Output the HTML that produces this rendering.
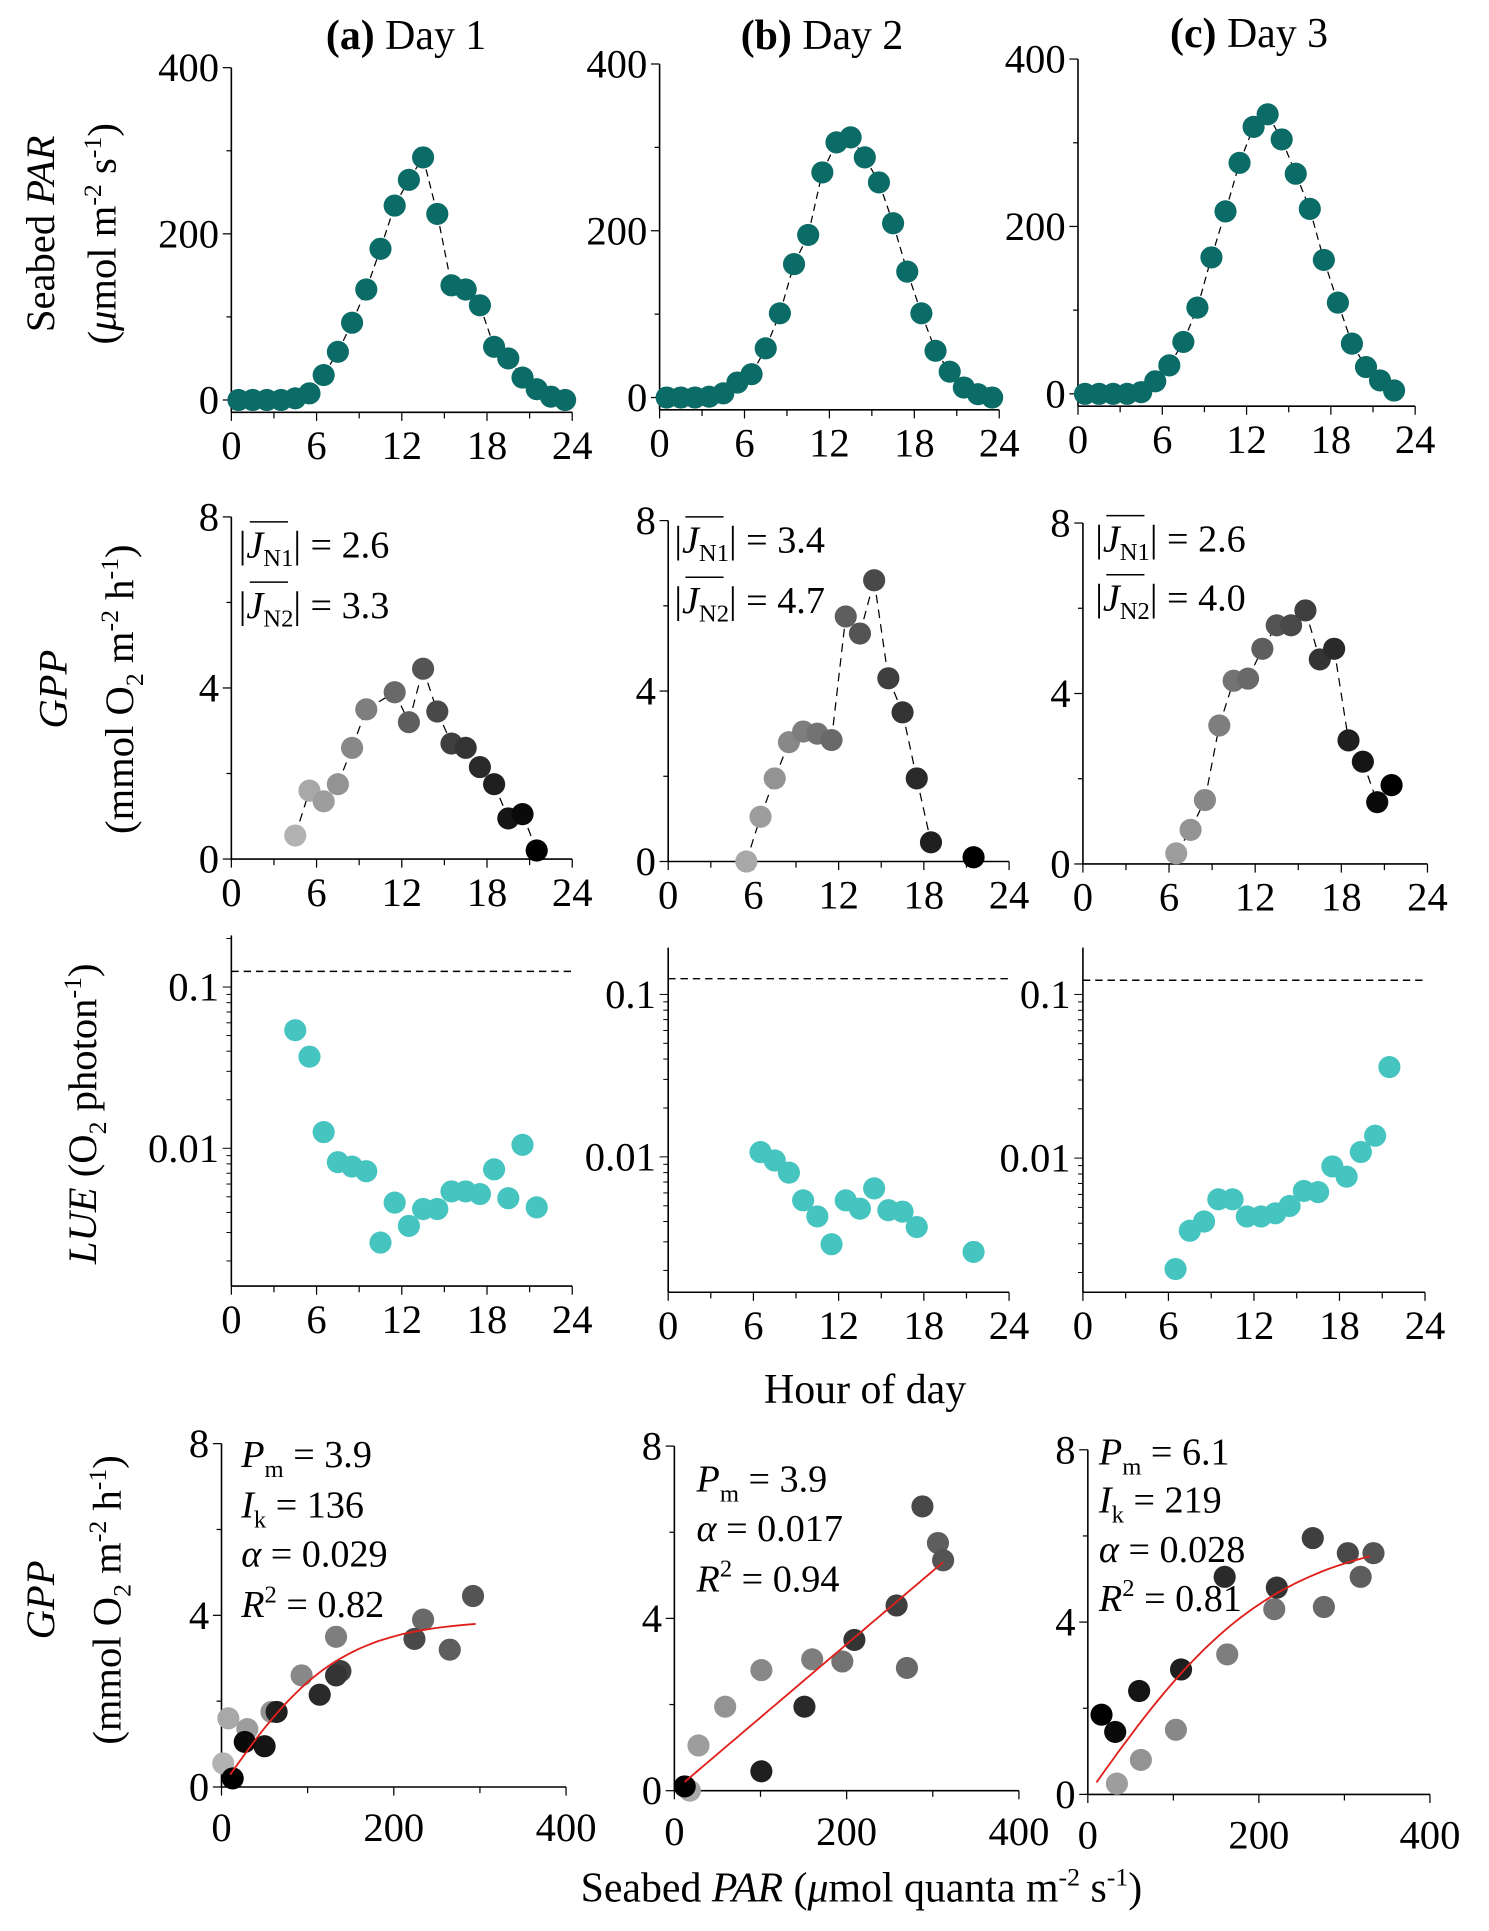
<!DOCTYPE html>
<html><head><meta charset="utf-8">
<style>
html,body{margin:0;padding:0;background:#fff;}
svg{display:block;font-family:"Liberation Serif",serif;}
</style></head>
<body>
<svg id="fig" xmlns="http://www.w3.org/2000/svg" width="1489" height="1931" viewBox="0 0 1210 1569" preserveAspectRatio="none">
  <g font-size="34" text-anchor="middle">
    <text x="330" y="40"><tspan font-weight="bold">(a)</tspan> Day 1</text>
    <text x="668" y="40"><tspan font-weight="bold">(b)</tspan> Day 2</text>
    <text x="1015" y="38"><tspan font-weight="bold">(c)</tspan> Day 3</text>
  </g>
  <g font-size="33" text-anchor="middle">
    <text transform="translate(44,190) rotate(-90)">Seabed <tspan font-style="italic">PAR</tspan></text>
    <text transform="translate(94,190) rotate(-90)">(<tspan font-style="italic">μ</tspan>mol m<tspan font-size="21" dy="-12">-2</tspan><tspan dy="12"> s</tspan><tspan font-size="21" dy="-12">-1</tspan><tspan dy="12">)</tspan></text>
    <text transform="translate(54,560) rotate(-90)" font-style="italic">GPP</text>
    <text transform="translate(108,560) rotate(-90)">(mmol O<tspan font-size="21" dy="8">2</tspan><tspan dy="-8"> m</tspan><tspan font-size="21" dy="-12">-2</tspan><tspan dy="12"> h</tspan><tspan font-size="21" dy="-12">-1</tspan><tspan dy="12">)</tspan></text>
    <text transform="translate(78,905) rotate(-90)"><tspan font-style="italic">LUE</tspan> (O<tspan font-size="21" dy="8">2</tspan><tspan dy="-8"> photon</tspan><tspan font-size="21" dy="-12">-1</tspan><tspan dy="12">)</tspan></text>
    <text transform="translate(44,1300) rotate(-90)" font-style="italic">GPP</text>
    <text transform="translate(98,1300) rotate(-90)">(mmol O<tspan font-size="21" dy="8">2</tspan><tspan dy="-8"> m</tspan><tspan font-size="21" dy="-12">-2</tspan><tspan dy="12"> h</tspan><tspan font-size="21" dy="-12">-1</tspan><tspan dy="12">)</tspan></text>
  </g>
  <text x="703" y="1140" font-size="34" text-anchor="middle">Hour of day</text>
  <text x="700" y="1545" font-size="34" text-anchor="middle">Seabed <tspan font-style="italic">PAR</tspan> (<tspan font-style="italic">μ</tspan>mol quanta m<tspan font-size="21" dy="-13">-2</tspan><tspan dy="13"> s</tspan><tspan font-size="21" dy="-13">-1</tspan><tspan dy="13">)</tspan></text>
  <g id="plots"></g>
</svg>
<script>
// ---- data ----
const parHours1 = [0.5,1.5,2.5,3.5,4.5,5.5,6.5,7.5,8.5,9.5,10.5,11.5,12.5,13.5,14.5,15.5,16.5,17.5,18.5,19.5,20.5,21.5,22.5,23.5];
const parVals1  = [0,0,0,0,2,8,30,58,93,133,182,234,265,292,224,138,133,114,64,50,27,13,4,0];
const parHours2 = [0.5,1.5,2.5,3.5,4.5,5.5,6.5,7.5,8.5,9.5,10.5,11.5,12.5,13.5,14.5,15.5,16.5,17.5,18.5,19.5,20.5,21.5,22.5,23.5];
const parVals2  = [0,0,0,1,5,18,28,59,101,160,195,270,306,312,288,258,209,151,101,56,31,12,4,0];
const parHours3 = [0.5,1.5,2.5,3.5,4.5,5.5,6.5,7.5,8.5,9.5,10.5,11.5,12.5,13.5,14.5,15.5,16.5,17.5,18.5,19.5,20.5,21.5,22.5];
const parVals3  = [0,0,0,0,2,15,34,62,103,163,218,276,319,334,304,263,221,160,109,60,32,16,4];

const gppHours1 = [4.5,5.5,6.5,7.5,8.5,9.5,11.5,12.5,13.5,14.5,15.5,16.5,17.5,18.5,19.5,20.5,21.5];
const gppVals1  = [0.55,1.6,1.35,1.75,2.6,3.5,3.9,3.2,4.45,3.45,2.7,2.6,2.15,1.75,0.95,1.05,0.2];
const gppHours2 = [5.5,6.5,7.5,8.5,9.5,10.5,11.5,12.5,13.5,14.5,15.5,16.5,17.5,18.5,21.5];
const gppVals2  = [0.0,1.05,1.95,2.8,3.05,3.0,2.85,5.75,5.35,6.6,4.3,3.5,1.95,0.45,0.1];
const gppHours3 = [6.5,7.5,8.5,9.5,10.5,11.5,12.5,13.5,14.5,15.5,16.5,17.5,18.5,19.5,20.5,21.5];
const gppVals3  = [0.25,0.8,1.5,3.25,4.3,4.35,5.05,5.6,5.6,5.95,4.8,5.05,2.9,2.4,1.45,1.85];

const lueHours1 = [4.5,5.5,6.5,7.5,8.5,9.5,10.5,11.5,12.5,13.5,14.5,15.5,16.5,17.5,18.5,19.5,20.5,21.5];
const lueVals1  = [0.054,0.037,0.0126,0.0082,0.0077,0.0072,0.0026,0.0046,0.0033,0.0042,0.0042,0.0054,0.0054,0.0052,0.0074,0.0049,0.0105,0.0043];
const lueHours2 = [6.5,7.5,8.5,9.5,10.5,11.5,12.5,13.5,14.5,15.5,16.5,17.5,21.5];
const lueVals2  = [0.0107,0.0095,0.008,0.0054,0.0043,0.0029,0.0054,0.0048,0.0064,0.0047,0.0046,0.0037,0.0026];
const lueHours3 = [6.5,7.5,8.5,9.5,10.5,11.5,12.5,13.5,14.5,15.5,16.5,17.5,18.5,19.5,20.5,21.5];
const lueVals3  = [0.0021,0.0036,0.0041,0.0056,0.0056,0.0044,0.0044,0.0046,0.0051,0.0063,0.0062,0.0089,0.0077,0.0109,0.0137,0.036];
const lueMax = [0.125,0.125,0.122];

const fitPm = [3.9,3.9,6.1];
const fitIk = [136,null,219];
const fitAlpha = [0.029,0.017,0.028];
const fitR2 = [0.82,0.94,0.81];
const fitLinear = [false,true,false];
const fitRange = [[10,295],[12,312],[10,330]];

const hourTicks = [0,6,12,18,24];
const parTicks = [0,200,400];
const gppTicks = [0,4,8];
const lueTicks = [0.01,0.1];
const lueTickLabels = ['0.01','0.1'];
const piTicks = [0,200,400];

// ---- layout (pixels) ----
const NS='http://www.w3.org/2000/svg';
const root=document.getElementById('plots');
function mk(tag,attrs,parent){const e=document.createElementNS(NS,tag);for(const k in attrs)e.setAttribute(k,attrs[k]);(parent||root).appendChild(e);return e;}
function lin(d0,d1,p0,p1){return v=>p0+(v-d0)/(d1-d0)*(p1-p0);}
function logS(yA,yB){return v=>yA+(Math.log10(v)-(-1))*(yA-yB);}
function grayFor(h){let t=(h-4.5)/17;t=Math.max(0,Math.min(1,t));const g=Math.round(178*(1-t));return 'rgb('+g+','+g+','+g+')';}

const L1=[{x0:188,x1:465,y0:325,y1:55},{x0:536,x1:812,y0:323,y1:52},{x0:876,x1:1150,y0:320,y1:48}];
const L2=[{x0:188,x1:465,y0:698,y1:420},{x0:543,x1:820,y0:700,y1:423},{x0:880,x1:1160,y0:702,y1:425}];
const L3=[{x0:188,x1:465,ya:802,yb:933,top:760,bot:1045},{x0:543,x1:820,ya:808,yb:940,top:770,bot:1050},{x0:880,x1:1158,ya:808,yb:941,top:770,bot:1050}];
const L4=[{x0:180,x1:460,y0:1452,y1:1173},{x0:548,x1:828,y0:1455,y1:1175},{x0:884,x1:1162,y0:1458,y1:1178}];

const parH=[parHours1,parHours2,parHours3], parV=[parVals1,parVals2,parVals3];
const gppH=[gppHours1,gppHours2,gppHours3], gppV=[gppVals1,gppVals2,gppVals3];
const lueH=[lueHours1,lueHours2,lueHours3], lueV=[lueVals1,lueVals2,lueVals3];
const FS=33;

function xAxisHours(g,L,yAxis){
  const sx=lin(0,24,L.x0,L.x1);
  const ax=mk('line',{x1:L.x0,y1:yAxis,x2:L.x1,y2:yAxis,stroke:'#000','stroke-width':1.3},g);
  
  for(let h=0;h<=24;h+=3){mk('line',{x1:sx(h),y1:yAxis,x2:sx(h),y2:yAxis+(h%6===0?7:5),stroke:'#000','stroke-width':1},g);}
  hourTicks.forEach(h=>{const t=mk('text',{x:sx(h),y:yAxis+38,'font-size':FS,'text-anchor':'middle'},g);t.textContent=h;
    });
}
function yAxisLin(g,L,ticks,dmax,yBottom,minorStep){
  const sy=lin(0,dmax,L.y0,L.y1);
  const ax=mk('line',{x1:L.x0,y1:sy(dmax),x2:L.x0,y2:yBottom,stroke:'#000','stroke-width':1.3},g);
  
  for(let v=0;v<=dmax+1e-9;v+=minorStep){mk('line',{x1:L.x0,y1:sy(v),x2:L.x0-(ticks.includes(v)?7:4),y2:sy(v),stroke:'#000','stroke-width':1},g);}
  ticks.forEach(v=>{const t=mk('text',{x:L.x0-10,y:sy(v)+11,'font-size':FS,'text-anchor':'end'},g);t.textContent=v;
    });
  return sy;
}
function connect(g,pts,hs,dash){
  for(let i=1;i<pts.length;i++){ if(hs[i]-hs[i-1]>2.1) continue;
    const l=mk('line',{x1:pts[i-1][0],y1:pts[i-1][1],x2:pts[i][0],y2:pts[i][1],stroke:'#000','stroke-width':1,'stroke-dasharray':dash},g);
    }
}

for(let d=0;d<3;d++){
  let g=mk('g',{});
  
  let L=L1[d]; let sx=lin(0,24,L.x0,L.x1);
  let sy=yAxisLin(g,L,parTicks,400,L.y0+10,100);
  xAxisHours(g,L,L.y0+10);
  let pts=parH[d].map((h,i)=>[sx(h),sy(parV[d][i])]);
  connect(g,pts,parH[d],'6,4');
  pts.forEach(p=>{const c=mk('circle',{cx:p[0],cy:p[1],r:9,fill:'#0b6b66'},g);
    });

  g=mk('g',{});
  
  L=L2[d]; sx=lin(0,24,L.x0,L.x1);
  sy=yAxisLin(g,L,gppTicks,8,L.y0,2);
  xAxisHours(g,L,L.y0);
  pts=gppH[d].map((h,i)=>[sx(h),sy(gppV[d][i])]);
  connect(g,pts,gppH[d],'7,5');
  pts.forEach((p,i)=>{const c=mk('circle',{cx:p[0],cy:p[1],r:9,fill:grayFor(gppH[d][i])},g);
    });

  g=mk('g',{});
  
  const L3d=L3[d]; sx=lin(0,24,L3d.x0,L3d.x1); const sl=logS(L3d.ya,L3d.yb);
  let ax=mk('line',{x1:L3d.x0,y1:L3d.top,x2:L3d.x0,y2:L3d.bot,stroke:'#000','stroke-width':1.3},g);
  
  for(let dec=-3;dec<=-1;dec++){for(let m=1;m<10;m++){const v=m*Math.pow(10,dec);const y=sl(v);
    if(y<L3d.top||y>L3d.bot)continue;mk('line',{x1:L3d.x0,y1:y,x2:L3d.x0-(m===1?7:4),y2:y,stroke:'#000','stroke-width':0.8},g);}}
  lueTicks.forEach((v,i)=>{const t=mk('text',{x:L3d.x0-10,y:sl(v)+11,'font-size':FS,'text-anchor':'end'},g);t.textContent=lueTickLabels[i];
    });
  xAxisHours(g,L3d,L3d.bot);
  const dl=mk('line',{x1:L3d.x0,y1:sl(lueMax[d]),x2:L3d.x1,y2:sl(lueMax[d]),stroke:'#000','stroke-width':1.2,'stroke-dasharray':'6,4'},g);
  
  lueH[d].forEach((h,i)=>{const c=mk('circle',{cx:sx(h),cy:sl(lueV[d][i]),r:9,fill:'#45c4c0'},g);
    });

  g=mk('g',{});
  
  L=L4[d]; sx=lin(0,400,L.x0,L.x1);
  sy=yAxisLin(g,L,gppTicks,8,L.y0,2);
  ax=mk('line',{x1:L.x0,y1:L.y0,x2:L.x1,y2:L.y0,stroke:'#000','stroke-width':1.3},g);
  
  for(let v=0;v<=400;v+=100){mk('line',{x1:sx(v),y1:L.y0,x2:sx(v),y2:L.y0+(v%200===0?7:5),stroke:'#000','stroke-width':1},g);}
  piTicks.forEach(v=>{const t=mk('text',{x:sx(v),y:L.y0+44,'font-size':FS,'text-anchor':'middle'},g);t.textContent=v;
    });
  gppH[d].forEach((h,i)=>{const j=parH[d].indexOf(h);if(j<0)return;
    const c=mk('circle',{cx:sx(parV[d][j]),cy:sy(gppV[d][i]),r:9,fill:grayFor(h)},g);
    });
  const model=I=>fitLinear[d]?fitAlpha[d]*I:fitPm[d]*Math.tanh(I/fitIk[d]);
  let dpath='';for(let k=0;k<=40;k++){const I=fitRange[d][0]+(fitRange[d][1]-fitRange[d][0])*k/40;dpath+=(k?'L':'M')+sx(I).toFixed(1)+','+sy(model(I)).toFixed(1);}
  const fp=mk('path',{d:dpath,fill:'none',stroke:'#e0201c','stroke-width':1.5},g);
  
}

function ann(x,y,html,name){const t=mk('text',{x:x,y:y,'font-size':31});t.innerHTML=html;
  }
const jn1=['2.6','3.4','2.6'], jn2=['3.3','4.7','4.0'];
const jx=[194,548,890], jy1=[453,449,448], jy2=[502,498,496];
for(let d=0;d<3;d++){
  ann(jx[d],jy1[d],'|<tspan font-style="italic">J</tspan><tspan font-size="20" dy="7">N1</tspan><tspan dy="-7">| = '+jn1[d]+'</tspan>','flux-n1-label');
  ann(jx[d],jy2[d],'|<tspan font-style="italic">J</tspan><tspan font-size="20" dy="7">N2</tspan><tspan dy="-7">| = '+jn2[d]+'</tspan>','flux-n2-label');
  mk('line',{x1:jx[d]+9,y1:jy1[d]-29,x2:jx[d]+40,y2:jy1[d]-29,stroke:'#000','stroke-width':1.2});
  mk('line',{x1:jx[d]+9,y1:jy2[d]-29,x2:jx[d]+40,y2:jy2[d]-29,stroke:'#000','stroke-width':1.2});
}
const px=[196,566,893];
const py=[[1192,1233,1273,1314],[1212,null,1252,1293],[1190,1229,1269,1309]];
for(let d=0;d<3;d++){
  ann(px[d],py[d][0],'<tspan font-style="italic">P</tspan><tspan font-size="20" dy="8">m</tspan><tspan dy="-8"> = '+fitPm[d]+'</tspan>','pm-label');
  if(fitIk[d]!=null) ann(px[d],py[d][1],'<tspan font-style="italic">I</tspan><tspan font-size="20" dy="8">k</tspan><tspan dy="-8"> = '+fitIk[d]+'</tspan>','ik-label');
  ann(px[d],py[d][2],'<tspan font-style="italic">α</tspan> = '+fitAlpha[d].toFixed(3),'alpha-label');
  ann(px[d],py[d][3],'<tspan font-style="italic">R</tspan><tspan font-size="20" dy="-12">2</tspan><tspan dy="12"> = '+fitR2[d].toFixed(2)+'</tspan>','r2-label');
}
</script>
</body></html>
